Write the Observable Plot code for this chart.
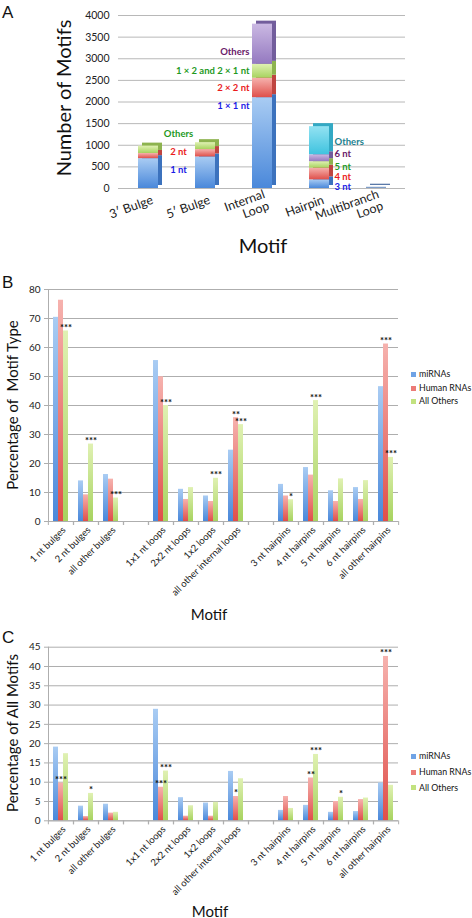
<!DOCTYPE html>
<html><head><meta charset="utf-8">
<script src="https://cdn.jsdelivr.net/npm/d3@7"></script>
<script src="https://cdn.jsdelivr.net/npm/@observablehq/plot@0.6"></script>
<style>
body{margin:0;background:#fff;}
#page{position:relative;width:472px;height:918px;overflow:hidden;font-family:Lato,sans-serif;color:#111;}
.abs{position:absolute;}
.letter{font-family:"Liberation Sans",Arial,sans-serif;font-size:17px;line-height:17px;}
.ytitle{transform:translate(-50%,-50%) rotate(-90deg);white-space:pre;line-height:1;}
.xtitle{transform:translate(-50%,-50%);white-space:pre;line-height:1;}
.legend{width:59px;}
.legend .row{display:flex;align-items:center;font-family:Lato,sans-serif;font-size:8.8px;line-height:1;white-space:nowrap;}
.sw{width:5px;height:5px;margin-right:3px;flex:none;}
</style></head><body>
<svg width="0" height="0" style="position:absolute">
<defs>
<linearGradient id="gBlue" x1="0" y1="0" x2="0" y2="1"><stop offset="0" stop-color="#a9ccf3"/><stop offset="1" stop-color="#4a88da"/></linearGradient>
<linearGradient id="gRed" x1="0" y1="0" x2="0" y2="1"><stop offset="0" stop-color="#f6b2ae"/><stop offset="1" stop-color="#df4f4a"/></linearGradient>
<linearGradient id="gGreen" x1="0" y1="0" x2="0" y2="1"><stop offset="0" stop-color="#e0f1b3"/><stop offset="1" stop-color="#a7d35f"/></linearGradient>
<linearGradient id="gPurple" x1="0" y1="0" x2="0" y2="1"><stop offset="0" stop-color="#cbb9e3"/><stop offset="1" stop-color="#9479c0"/></linearGradient>
<linearGradient id="gCyan" x1="0" y1="0" x2="0" y2="1"><stop offset="0" stop-color="#93e2f2"/><stop offset="1" stop-color="#3fc3df"/></linearGradient>
<linearGradient id="gGray" x1="0" y1="0" x2="0" y2="1"><stop offset="0" stop-color="#9db6d8"/><stop offset="1" stop-color="#6d8fc0"/></linearGradient>
</defs></svg>
<div id="page"></div>
<script>
// ---------- Panel A data ----------
const aMotifs = ["3′ Bulge", "5′ Bulge", "Internal Loop", "Hairpin", "Multibranch Loop"];
const aSegments = [
  ["1 nt", "2 nt", "Others"],
  ["1 nt", "2 nt", "Others"],
  ["1 × 1 nt", "2 × 2 nt", "1 × 2 and 2 × 1 nt", "Others"],
  ["3 nt", "4 nt", "5 nt", "6 nt", "Others"],
  ["Multibranch"]
];
const aCounts = [
  [690, 120, 170],
  [730, 170, 160],
  [2100, 450, 320, 930],
  [200, 270, 150, 160, 650],
  [30]
];
const aLevels = [[0, 1, 2], [0, 1, 2], [0, 1, 2, 3], [0, 1, 2, 3, 4], [5]];
const aYTicks = [0, 500, 1000, 1500, 2000, 2500, 3000, 3500, 4000];

// ---------- Panels B & C data ----------
const series = ["miRNAs", "Human RNAs", "All Others"];
const bulgeCats = ["1 nt bulges", "2 nt bulges", "all other bulges"];
const loopCats = ["1x1 nt loops", "2x2 nt loops", "1x2 loops", "all other internal loops"];
const hairpinCats = ["3 nt hairpins", "4 nt hairpins", "5 nt hairpins", "6 nt hairpins", "all other hairpins"];
const categories = [...bulgeCats, ...loopCats, ...hairpinCats];

const typeMiRNAs = [70.4, 14.0, 16.2, 55.5, 11.1, 8.8, 24.6, 12.8, 18.6, 10.6, 11.7, 46.5];
const typeHuman  = [76.3, 9.2, 14.6, 49.9, 7.6, 6.9, 35.8, 8.8, 16.0, 6.9, 7.6, 61.2];
const typeOthers = [65.7, 26.7, 8.1, 40.0, 11.7, 14.9, 33.4, 7.5, 41.7, 14.7, 14.1, 22.1];
const typeStarsMiRNAs = ["", "", "", "", "", "", "", "", "", "", "", ""];
const typeStarsHuman  = ["", "", "", "", "", "", "**", "", "", "", "", "***"];
const typeStarsOthers = ["***", "***", "***", "***", "", "***", "***", "*", "***", "", "", "***"];
const typeYTicks = [0, 10, 20, 30, 40, 50, 60, 70, 80];

const allMiRNAs = [19.1, 3.8, 4.3, 28.9, 6.0, 4.6, 12.8, 2.7, 4.0, 2.2, 2.4, 9.8];
const allHuman  = [9.8, 1.1, 2.0, 8.7, 1.2, 1.2, 6.3, 6.3, 11.1, 5.0, 5.5, 42.6];
const allOthers = [17.4, 7.1, 2.2, 12.9, 3.9, 4.8, 10.9, 3.2, 17.2, 6.1, 5.9, 9.2];
const allStarsMiRNAs = ["", "", "", "", "", "", "", "", "", "", "", ""];
const allStarsHuman  = ["***", "", "", "***", "", "", "*", "", "**", "", "", "***"];
const allStarsOthers = ["", "*", "", "***", "", "", "", "", "***", "*", "", ""];
const allYTicks = [0, 5, 10, 15, 20, 25, 30, 35, 40, 45];

// ---------- styles ----------
const gradA = ["url(#gBlue)", "url(#gRed)", "url(#gGreen)", "url(#gPurple)", "url(#gCyan)", "url(#gGray)"];
const sideA = ["#3c72bd", "#bf4541", "#8db34f", "#725d9c", "#33a9c4", "#5a79a8"];
const labelA = ["#1c1ce6", "#ea1c1c", "#1f9a1f", "#6a1b6a", "#1c7f8e"];
const gradS = ["url(#gBlue)", "url(#gRed)", "url(#gGreen)"];
const swatch = ["#6fa3e6", "#ec7b77", "#c2e27f"];
const grid = "#aeaeae";
const baseStyle = {fontFamily: "Lato, sans-serif", fontSize: "10px", color: "#222", background: "transparent", overflow: "visible"};

const page = document.getElementById("page");
function place(el, left, top) { el.style.position = "absolute"; el.style.left = left + "px"; el.style.top = top + "px"; page.appendChild(el); return el; }
function div(html, cls, left, top, css) { const d = document.createElement("div"); d.className = "abs " + (cls || ""); d.innerHTML = html; d.style.left = left + "px"; d.style.top = top + "px"; if (css) Object.assign(d.style, css); page.appendChild(d); return d; }

// ---------- Panel A ----------
const rowsA = [];
aMotifs.forEach((m, i) => {
  let acc = 0;
  aCounts[i].forEach((c, j) => {
    rowsA.push({motif: m, seg: aSegments[i][j], level: aLevels[i][j], y1: acc, y2: acc + c, mid: acc + c / 2});
    acc += c;
  });
});
function labelMarks(motif, opts, special) {
  const marks = [];
  rowsA.filter(d => d.motif === motif).forEach(d => {
    const sp = (special && special[d.seg]) || {};
    marks.push(Plot.text([d], {
      x: "motif", y: sp.top ? "y2" : "mid", text: "seg",
      fill: labelA[d.level], fontWeight: "bold", fontSize: 9.5,
      ...opts, dy: (opts.dy || 0) + (sp.dy || 0)
    }));
  });
  return marks;
}
const plotA = Plot.plot({
  width: 472, height: 265, marginTop: 15, marginBottom: 77, marginLeft: 118, marginRight: 67,
  style: {...baseStyle, fontSize: "10.5px"},
  x: {domain: aMotifs, paddingInner: 0.65, paddingOuter: 0.325},
  y: {domain: [0, 4000]},
  color: {type: "identity"},
  marks: [
    Plot.gridY(aYTicks, {stroke: "#b8b8b8", strokeOpacity: 1}),
    Plot.axisY(aYTicks, {tickSize: 0, tickPadding: 9, label: null, tickFormat: d3.format("d")}),
    Plot.barY(rowsA, {x: "motif", y1: "y1", y2: "y2", fill: d => sideA[d.level], dx: 4, dy: -3}),
    Plot.barY(rowsA, {x: "motif", y1: "y1", y2: "y2", fill: d => gradA[d.level]}),
    ...labelMarks("3′ Bulge", {dx: 30, dy: -4, textAnchor: "middle"}, {"Others": {dy: -12}}),
    ...labelMarks("Internal Loop", {dx: -13, textAnchor: "end"}, {"1 × 1 nt": {top: true, dy: 8}, "Others": {dy: 8}}),
    ...labelMarks("Hairpin", {dx: 15, textAnchor: "start"}, {"3 nt": {dy: 3}, "4 nt": {dy: 3}, "5 nt": {dy: 2}, "6 nt": {dy: -4}, "Others": {dy: 1}}),
    Plot.axisX({tickSize: 0, tickPadding: 11, tickRotate: -20, label: null, fontSize: 12.5, dx: 4, tickFormat: d => d.replace(" Loop", "\nLoop")})
  ]
});
place(plotA, 0, 0);
div("A", "letter", 2, 4);
div("Number of Motifs", "ytitle", 63, 98, {fontSize: "20px"});
div("Motif", "xtitle", 263, 245, {fontSize: "20px"});

// ---------- Panels B & C ----------
const gapKeys = [" ", "  "];
const catDomain = [...bulgeCats, gapKeys[0], ...loopCats, gapKeys[1], ...hairpinCats];
const mL = 46, mR = 72;
function grouped({values, stars, ticks, yMax, height, marginTop, marginBottom}) {
  const rows = [];
  categories.forEach((c, i) => series.forEach((s, k) => rows.push({cat: c, series: s, k, value: values[k][i], star: stars[k][i]})));
  // empty gap slots carry a zero so that the grid is drawn through them
  gapKeys.forEach(g => rows.push({cat: g, series: series[0], k: 0, value: 0, star: ""}));
  const step = (472 - mL - mR) / catDomain.length;
  return Plot.plot({
    width: 472, height, marginTop, marginBottom, marginLeft: mL, marginRight: mR,
    style: baseStyle,
    fx: {domain: catDomain, padding: 0},
    x: {domain: series, paddingInner: 0.05, paddingOuter: 0.745, axis: null},
    y: {domain: [0, yMax]},
    color: {type: "identity"},
    marks: [
      Plot.gridY(ticks, {stroke: grid, strokeOpacity: 1}),
      Plot.axisY(ticks, {tickSize: 4, tickPadding: 4, label: null, stroke: grid, fontSize: 10}),
      Plot.frame({anchor: "left", stroke: grid, facetAnchor: "left"}),
      Plot.barY(rows, {fx: "cat", x: "series", y: "value", fill: d => gradS[d.k]}),
      Plot.text(rows, {fx: "cat", x: "series", y: "value", text: "star", lineAnchor: "bottom", fontSize: 9.5, fontWeight: "bold", fill: "#111"}),
      Plot.ruleY([0], {stroke: grid}),
      Plot.axisFx({anchor: "bottom", tickSize: 4, tickFormat: () => "", dx: -step / 2, stroke: grid, label: null}),
      Plot.axisFx([catDomain[catDomain.length - 1]], {anchor: "bottom", tickSize: 4, tickFormat: () => "", dx: step / 2, stroke: grid, label: null}),
      Plot.axisFx({anchor: "bottom", tickSize: 0, tickPadding: 7, tickRotate: -45, label: null, fontSize: 9.5, dx: 3, tickFormat: d => d.trim()})
    ]
  });
}
function legend(top, rowH) {
  const l = div("", "legend", 411, top);
  series.forEach((s, k) => {
    const r = document.createElement("div");
    r.className = "row"; r.style.height = rowH + "px";
    r.innerHTML = `<span class="sw" style="background:${swatch[k]}"></span><span>${s}</span>`;
    l.appendChild(r);
  });
}

const plotB = grouped({values: [typeMiRNAs, typeHuman, typeOthers], stars: [typeStarsMiRNAs, typeStarsHuman, typeStarsOthers], ticks: typeYTicks, yMax: 80, height: 320, marginTop: 9, marginBottom: 79});
place(plotB, 0, 280);
div("B", "letter", 2, 274);
div("Percentage of  Motif Type", "ytitle", 12, 405, {fontSize: "15px"});
div("Motif", "xtitle", 209, 614, {fontSize: "15px"});
legend(368, 13.5);

const plotC = grouped({values: [allMiRNAs, allHuman, allOthers], stars: [allStarsMiRNAs, allStarsHuman, allStarsOthers], ticks: allYTicks, yMax: 45, height: 278, marginTop: 6.7, marginBottom: 97.7});
place(plotC, 0, 640);
div("C", "letter", 2, 629);
div("Percentage of All Motifs", "ytitle", 12, 733, {fontSize: "15px"});
div("Motif", "xtitle", 210, 911, {fontSize: "15px"});
legend(749, 15.6);
</script>
</body></html>
